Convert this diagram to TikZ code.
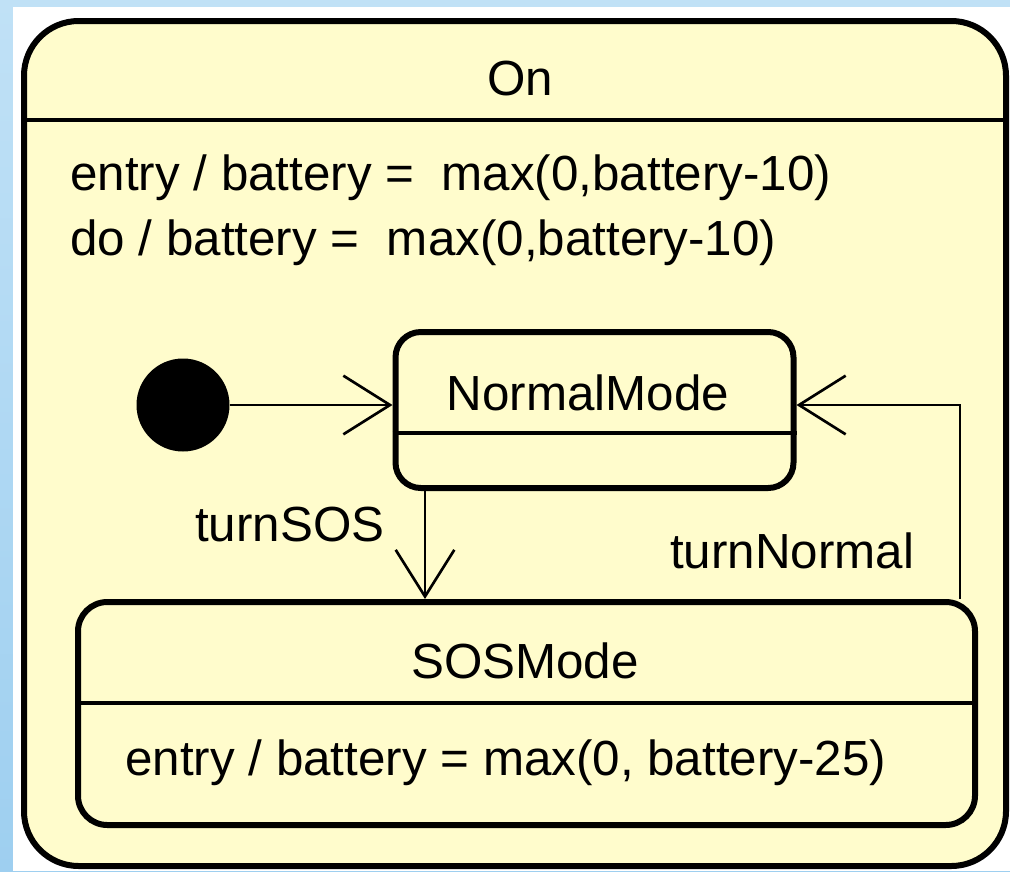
\documentclass[tikz,border=0pt]{standalone}
\usepackage{fontspec}
\setmainfont{Liberation Sans}
\usetikzlibrary{arrows.meta, positioning, calc}

\definecolor{statefill}{RGB}{255,252,204}
\definecolor{bgtop}{RGB}{192,225,246}
\definecolor{bgbottom}{RGB}{158,207,240}

\begin{document}
\begin{tikzpicture}[x=0.75pt, y=-0.75pt,
  outerbox/.style={draw, rounded corners=41pt, line width=4.5pt, fill=statefill,
                   minimum width=736.5pt, minimum height=633.75pt, inner sep=0pt},
  statebox/.style={draw, rounded corners=19pt, line width=4.5pt, fill=statefill,
                   inner sep=0pt},
  sep/.style={line width=3pt},
  txt/.style={font=\fontsize{37}{45}\selectfont, inner sep=0pt},
  initial/.style={circle, fill=black, minimum size=69.75pt, inner sep=0pt},
  arr/.style={-{Straight Barb[length=35pt, width=44pt]}, line width=2pt},
]
  \useasboundingbox (0,0) rectangle (1010,871);

  % ── Background ──
  \shade[top color=bgtop, bottom color=bgbottom] (0,0) rectangle (1010,871);
  \fill[white] (13,7) rectangle (1010,871);

  % ── Composite state: On ──
  \node[outerbox] (on) at (515,443.5) {};
  \coordinate (onsep) at (0,120);
  \draw[sep] (on.west |- onsep) -- (on.east |- onsep);
  \node[txt] (onname) at (520,79) {On};
  \node[txt, anchor=base west] (onentry) at (70,190)
    {entry / battery =\ \ max(0,battery-10)};
  \node[txt, anchor=base west] (ondo) at (70,255)
    {do / battery =\ \ max(0,battery-10)};

  % ── Sub-states ──
  \node[initial] (init) at (183,405) {};

  \node[statebox, minimum width=298.5pt, minimum height=117pt] (normal)
    at (594.5,410) {};
  \coordinate (normalsep) at (0,433);
  \draw[sep] (normal.west |- normalsep) -- (normal.east |- normalsep);
  \node[txt] (normalname) at (588,393) {NormalMode};

  \node[statebox, rounded corners=22pt, minimum width=672.75pt, minimum height=167.25pt]
    (sos) at (526.5,713.5) {};
  \coordinate (sossep) at (0,703);
  \draw[sep] (sos.west |- sossep) -- (sos.east |- sossep);
  \node[txt] (sosname) at (525,661) {SOSMode};
  \node[txt, anchor=base west] (sosentry) at (125,775)
    {entry / battery = max(0, battery-25)};

  % ══ Transitions ══
  \coordinate (drop) at (425,0);
  \coordinate (bend) at (960,405);

  \draw[arr] (init) -- (init -| normal.west);
  \draw[arr] (normal.south -| drop) -- (sos.north -| drop);
  \draw[arr] (sos.north -| bend) -- (bend) -- (bend -| normal.east);

  % ── Labels ──
  \node[txt, anchor=base west] (turnsos) at (195,541) {turnSOS};
  \node[txt, anchor=base west] (turnnormal) at (670,568) {turnNormal};

\end{tikzpicture}
\end{document}
